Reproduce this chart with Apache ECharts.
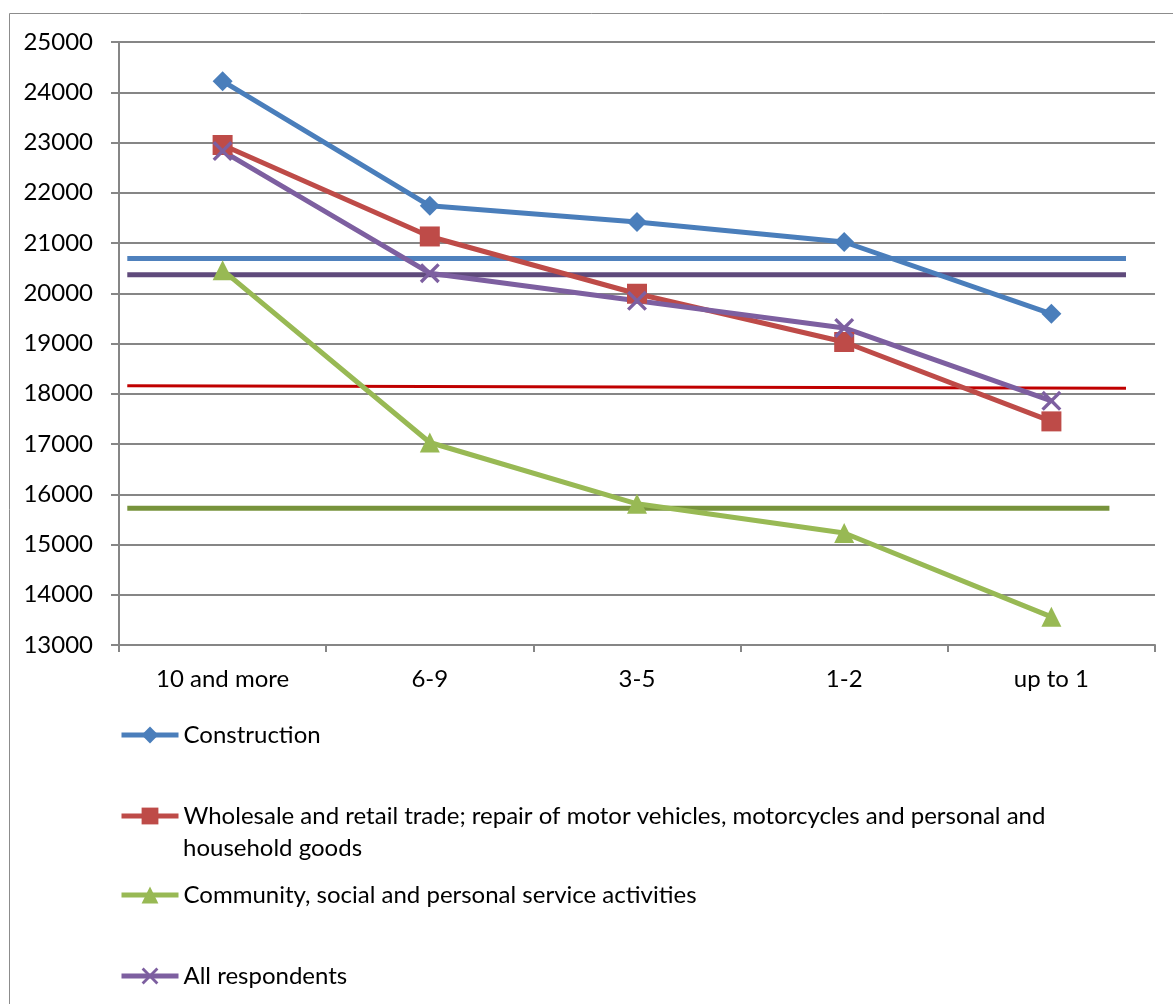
<!DOCTYPE html>
<html><head><meta charset="utf-8">
<script src="https://cdn.jsdelivr.net/npm/echarts@6/dist/echarts.min.js"></script>
<style>html,body{margin:0;padding:0;background:#fff;}#c{width:1173px;height:1004px;}</style>
</head><body><div id="c"></div>
<script>
const categories = ['10 and more', '6-9', '3-5', '1-2', 'up to 1'];
const wholesaleLines = ['Wholesale and retail trade; repair of motor vehicles, motorcycles and personal and', 'household goods'];
const seriesNames = ['Construction',
  wholesaleLines.join(' '),
  'Community, social and personal service activities',
  'All respondents'];
const construction = [24220, 21740, 21420, 21020, 19590];
const wholesale = [22950, 21130, 19990, 19030, 17450];
const community = [20460, 17030, 15810, 15230, 13560];
const allRespondents = [22830, 20400, 19850, 19310, 17860];
// average reference lines: [start value, end value]
const avgConstruction = [20690, 20690];
const avgAll = [20370, 20370];
const avgWholesale = [18160, 18110];
const avgCommunity = [15720, 15720];
const yTicks = [13000, 14000, 15000, 16000, 17000, 18000, 19000, 20000, 21000, 22000, 23000, 24000, 25000];

const FONT = 'Lato';
const FS = 24;
const xSym = 'path://M0,1.2 L1.2,0 L5,3.8 L8.8,0 L10,1.2 L6.2,5 L10,8.8 L8.8,10 L5,6.2 L1.2,10 L0,8.8 L3.8,5 Z';

const colors = ['#4A7EBB', '#BE4B48', '#98B954', '#7D5FA0'];
const symbols = ['diamond', 'rect', 'triangle', xSym];
const dataSets = [construction, wholesale, community, allRespondents];

const mainSeries = dataSets.map((d, i) => ({
  name: seriesNames[i], type: 'line', data: d,
  symbol: symbols[i], symbolSize: 20, showSymbol: true,
  lineStyle: { color: colors[i], width: 5 },
  itemStyle: { color: colors[i] },
  z: 3
}));

function avgLine(name, vals, end, color, width) {
  return {
    name: name, type: 'line', xAxisIndex: 1,
    data: [[0.04, vals[0]], [end, vals[1]]],
    symbol: 'none', silent: true,
    lineStyle: { color: color, width: width },
    z: 2
  };
}

const avgSeries = [
  avgLine('avgC', avgConstruction, 4.86, '#4F81BD', 5),
  avgLine('avgA', avgAll, 4.86, '#5F4A7B', 5),
  avgLine('avgW', avgWholesale, 4.86, '#C00000', 3),
  avgLine('avgS', avgCommunity, 4.78, '#77933C', 5)
];

const legendTops = [719, 800, 879, 960];
const legends = seriesNames.map((n, i) => ({
  data: [n], left: 119, top: legendTops[i], orient: 'vertical', padding: 0,
  itemWidth: 57, itemHeight: 21, itemGap: 4, selectedMode: false,
  lineStyle: { width: 5 },
  formatter: name => (name === seriesNames[1] ? wholesaleLines[0] : name),
  textStyle: { fontFamily: FONT, fontSize: FS, color: '#000', lineHeight: 32 }
}));

const chart = echarts.init(document.getElementById('c'));
chart.setOption({
  animation: false,
  backgroundColor: '#fff',
  graphic: [
    { type: 'rect', shape: { x: 9.5, y: 13.5, width: 1200, height: 1100 },
      style: { fill: 'none', stroke: '#8C8C8C', lineWidth: 1 }, silent: true, z: -10 },
    { type: 'text', left: 183, top: 836, silent: true,
      style: { text: wholesaleLines[1], fontFamily: FONT, fontSize: FS, fill: '#000' } }
  ],
  grid: { left: 119, right: 18, top: 42, bottom: 359, containLabel: false },
  legend: legends,
  xAxis: [{
    type: 'category', data: categories, boundaryGap: true,
    axisLine: { lineStyle: { color: '#868686', width: 2 } },
    axisTick: { show: true, alignWithLabel: false, length: 7, lineStyle: { color: '#868686', width: 2 } },
    axisLabel: { fontFamily: FONT, fontSize: FS, color: '#000', margin: 22 },
    splitLine: { show: false }
  }, {
    type: 'value', min: 0, max: 5, show: false
  }],
  yAxis: {
    type: 'value', min: 13000, max: 25000, interval: 1000,
    axisLine: { show: true, lineStyle: { color: '#868686', width: 2 } },
    axisTick: { show: true, length: 8, lineStyle: { color: '#868686', width: 2 } },
    axisLabel: { fontFamily: FONT, fontSize: FS, color: '#000', margin: 26,
      formatter: v => (yTicks.indexOf(v) >= 0 ? String(v) : '') },
    splitLine: { show: true, lineStyle: { color: '#868686', width: 2 } }
  },
  series: avgSeries.concat(mainSeries)
});
</script></body></html>
